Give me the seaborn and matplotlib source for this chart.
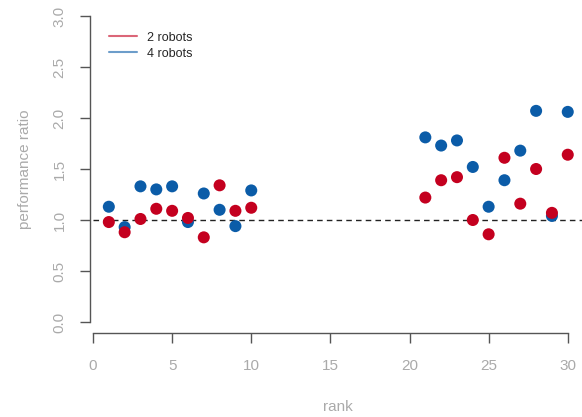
import numpy as np
import pandas as pd
import seaborn as sns
import matplotlib.pyplot as plt
from matplotlib.lines import Line2D

# values
rank = [1, 2, 3, 4, 5, 6, 7, 8, 9, 10, 21, 22, 23, 24, 25, 26, 27, 28, 29, 30]
ratio_2 = [0.98, 0.88, 1.01, 1.11, 1.09, 1.02, 0.83, 1.34, 1.09, 1.12,
           1.22, 1.39, 1.42, 1.00, 0.86, 1.61, 1.16, 1.50, 1.07, 1.64]
ratio_4 = [1.13, 0.93, 1.33, 1.30, 1.33, 0.98, 1.26, 1.10, 0.94, 1.29,
           1.81, 1.73, 1.78, 1.52, 1.13, 1.39, 1.68, 2.07, 1.04, 2.06]
series = ['2 robots', '4 robots']
colors = ['#c4001f', '#0b5ca8']

df = pd.concat([
    pd.DataFrame({'rank': rank, 'ratio': ratio_4, 'robots': series[1]}),
    pd.DataFrame({'rank': rank, 'ratio': ratio_2, 'robots': series[0]}),
])

sns.set_style('white')
plt.rcParams['font.family'] = ['Liberation Sans', 'DejaVu Sans']

fig = plt.figure(figsize=(5.82, 4.17), dpi=100)
ax = fig.add_axes([93 / 582, 95 / 417, 489 / 582, 306 / 417])

ax.axhline(1.0, color='#222222', linestyle=(0, (4, 3)), linewidth=1, zorder=1)

sns.scatterplot(data=df, x='rank', y='ratio', hue='robots', hue_order=series,
                palette=dict(zip(series, colors)), s=75, linewidth=0,
                legend=False, ax=ax, clip_on=False, zorder=3)

ax.set_xlim(0, 30.9)
ax.set_ylim(0, 3)
ax.set_xticks([0, 5, 10, 15, 20, 25, 30])
ax.set_yticks([0, 0.5, 1.0, 1.5, 2.0, 2.5, 3.0])
ax.set_yticklabels(['0.0', '0.5', '1.0', '1.5', '2.0', '2.5', '3.0'])

for side in ['top', 'right']:
    ax.spines[side].set_visible(False)
for side in ['left', 'bottom']:
    ax.spines[side].set_color('#555555')
    ax.spines[side].set_linewidth(1)
ax.spines['left'].set_position(('outward', 2))
ax.spines['bottom'].set_position(('outward', 8))
ax.spines['bottom'].set_bounds(0, 30)
ax.spines['left'].set_bounds(0, 3)

ax.tick_params(axis='both', which='major', direction='out', length=7,
               width=1, color='#555555', labelcolor='#aaaaaa',
               labelsize=11, bottom=True, left=True)
ax.tick_params(axis='x', pad=12)
ax.tick_params(axis='y', pad=10, labelrotation=90)
for lbl in ax.get_yticklabels():
    lbl.set_va('center')

ax.set_xlabel('rank', color='#aaaaaa', fontsize=11, labelpad=19)
ax.set_ylabel('performance ratio', color='#aaaaaa', fontsize=11, labelpad=15)

handles = [Line2D([0], [0], color=c, lw=1.5, alpha=0.6) for c in colors]
ax.legend(handles, series, loc='upper left', bbox_to_anchor=(0.01, 0.985),
          frameon=False, fontsize=9, handlelength=2.2, handletextpad=0.8,
          labelspacing=0.3)

fig.savefig('out.png', dpi=100)
